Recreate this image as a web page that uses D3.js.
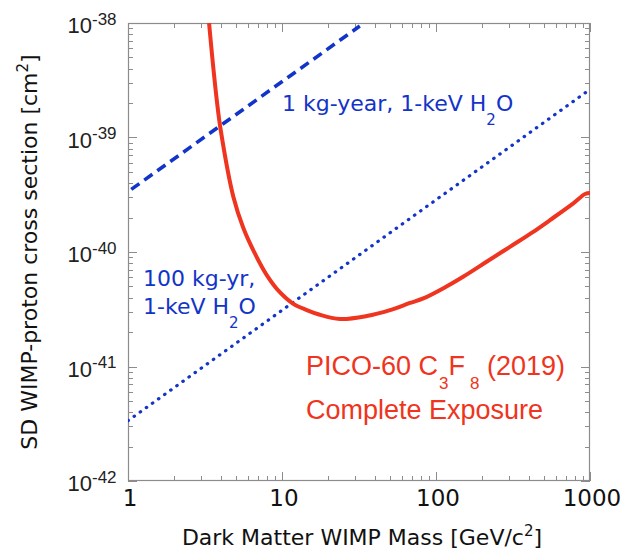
<!DOCTYPE html>
<html><head><meta charset="utf-8">
<script src="https://cdn.jsdelivr.net/npm/d3@7"></script>
<style>body{margin:0;background:#fff}svg{display:block}</style>
</head><body>
<script>
// ---- data ----
const xTickValues = [1, 10, 100, 1000];
const xTickLabels = ["1", "10", "100", "1000"];
const yTickValues = [1e-42, 1e-41, 1e-40, 1e-39, 1e-38];
const yTickExponents = ["-42", "-41", "-40", "-39", "-38"];

const picoMass = [3.36, 3.54, 3.77, 4.0, 4.83, 5.61, 6.69, 7.96, 9.71, 11.84, 14.5, 17.2, 23.8, 35.5, 50.3, 67.8, 82.7, 117, 150, 213, 302, 428, 550, 779, 929, 1000];
const picoSigma = [1e-38, 4.75e-39, 2.13e-39, 1.16e-39, 3.04e-40, 1.62e-40, 9.61e-41, 6.29e-41, 4.43e-41, 3.52e-41, 3.11e-41, 2.86e-41, 2.60e-41, 2.76e-41, 3.11e-41, 3.59e-41, 3.93e-41, 5.00e-41, 6.08e-41, 8.22e-41, 1.11e-40, 1.50e-40, 1.90e-40, 2.66e-40, 3.21e-40, 3.27e-40];

const h2o1Mass = [1, 32];
const h2o1Sigma = [3.36e-40, 9.4e-39];
const h2o100Mass = [1, 1000];
const h2o100Sigma = [3.36e-42, 2.63e-39];

// ---- layout ----
const W = 627, H = 551;
const L = 128, R = 590, T = 23, B = 481;
const blue = "#1234c8", red = "#ef3420", frame = "#8c8c8c";

const svg = d3.select("body").append("svg").attr("width", W).attr("height", H);
const x = d3.scaleLog().domain([1, 1000]).range([L, R]);
const y = d3.scaleLog().domain([1e-42, 1e-38]).range([B, T]);

svg.append("clipPath").attr("id", "clip").append("rect")
  .attr("x", L).attr("y", T).attr("width", R - L).attr("height", B - T);

// ticks
const xMinor = x.ticks().filter(v => !xTickValues.some(m => Math.abs(m - v) < 1e-9 * m));
const yMinor = y.ticks().filter(v => !yTickValues.some(m => Math.abs(m - v) < 1e-6 * m));
const tk = svg.append("g").attr("stroke", frame).attr("stroke-width", 1);
function xt(vals, len) {
  vals.forEach(v => {
    const px = Math.round(x(v)) + 0.5;
    tk.append("line").attr("x1", px).attr("x2", px).attr("y1", B).attr("y2", B - len);
    tk.append("line").attr("x1", px).attr("x2", px).attr("y1", T).attr("y2", T + len);
  });
}
function yt(vals, len) {
  vals.forEach(v => {
    const py = Math.round(y(v)) + 0.5;
    tk.append("line").attr("y1", py).attr("y2", py).attr("x1", L).attr("x2", L + len);
    tk.append("line").attr("y1", py).attr("y2", py).attr("x1", R).attr("x2", R - len);
  });
}
xt(xTickValues, 9); xt(xMinor, 5);
yt(yTickValues, 9); yt(yMinor, 5);

svg.append("rect").attr("x", L + 0.5).attr("y", T + 0.5).attr("width", R - L - 1).attr("height", B - T - 1)
  .attr("fill", "none").attr("stroke", frame).attr("stroke-width", 1.2);

// tick labels
const xl = svg.append("g").attr("font-family", "DejaVu Sans").attr("font-size", 23).attr("fill", "#111").attr("text-anchor", "middle");
xTickValues.forEach((v, i) => {
  xl.append("text").attr("x", x(v) + 2).attr("y", 506).text(xTickLabels[i]);
});
const yl = svg.append("g").attr("font-family", "Liberation Sans").attr("fill", "#222");
yTickValues.forEach((v, i) => {
  const py = y(v);
  yl.append("text").attr("x", 92).attr("y", py + 10).attr("font-size", 22).attr("text-anchor", "end").text("10");
  yl.append("text").attr("x", 92).attr("y", py + 1.5).attr("font-size", 17).text(yTickExponents[i]);
});

// axis titles
const xtT = svg.append("text").attr("font-family", "DejaVu Sans").attr("font-size", 22).attr("fill", "#111")
  .attr("text-anchor", "middle").attr("x", 362).attr("y", 545);
xtT.append("tspan").text("Dark Matter WIMP Mass [GeV/c");
xtT.append("tspan").attr("font-size", 15).attr("dy", -9).text("2");
xtT.append("tspan").attr("dy", 9).text("]");

const ytT = svg.append("text").attr("font-family", "DejaVu Sans").attr("font-size", 22).attr("fill", "#111")
  .attr("text-anchor", "middle").attr("transform", "translate(37,252) rotate(-90)");
ytT.append("tspan").text("SD WIMP-proton cross section [cm");
ytT.append("tspan").attr("font-size", 15).attr("dy", -9).text("2");
ytT.append("tspan").attr("dy", 9).text("]");

// lines
const line = d3.line().x(d => x(d[0])).y(d => y(d[1]));
const g = svg.append("g").attr("clip-path", "url(#clip)");
g.append("path").datum(h2o100Mass.map((m, i) => [m, h2o100Sigma[i]]))
  .attr("d", line).attr("fill", "none").attr("stroke", blue).attr("stroke-width", 3.2)
  .attr("stroke-linecap", "round").attr("stroke-dasharray", "0.5,7");
g.append("path").datum(h2o1Mass.map((m, i) => [m, h2o1Sigma[i]]))
  .attr("d", line).attr("fill", "none").attr("stroke", blue).attr("stroke-width", 3.6)
  .attr("stroke-dasharray", "10,6").attr("stroke-dashoffset", -4);
g.append("path").datum(picoMass.map((m, i) => [m, picoSigma[i]]))
  .attr("d", line.curve(d3.curveCatmullRom.alpha(0.5))).attr("fill", "none").attr("stroke", red)
  .attr("stroke-width", 4).attr("stroke-linejoin", "round");

// annotations
function sub(t, parts, fs) {
  parts.forEach(p => {
    if (p[1]) t.append("tspan").attr("font-size", fs).attr("dy", 14).attr("dx", p[2] || 0).text(p[0]);
    else t.append("tspan").attr("dy", p[2] || 0).text(p[0]);
  });
}
const a1 = svg.append("text").attr("font-family", "DejaVu Sans").attr("font-size", 22).attr("fill", blue).attr("x", 282).attr("y", 111);
sub(a1, [["1 kg-year,  1-keV H"], ["2", true], ["O", false, -14]], 15);
svg.append("text").attr("font-family", "DejaVu Sans").attr("font-size", 22).attr("fill", blue).attr("x", 143).attr("y", 286).text("100 kg-yr,");
const a3 = svg.append("text").attr("font-family", "DejaVu Sans").attr("font-size", 22).attr("fill", blue).attr("x", 143).attr("y", 314);
sub(a3, [["1-keV H"], ["2", true], ["O", false, -14]], 15);
const r1 = svg.append("text").attr("font-family", "Liberation Sans").attr("font-size", 27).attr("fill", red).attr("x", 306).attr("y", 375);
sub(r1, [["PICO-60 C"], ["3", true, 1], ["F", false, -14], ["8", true, 5], [" (2019)", false, -14]], 17);
svg.append("text").attr("font-family", "Liberation Sans").attr("font-size", 27).attr("fill", red).attr("x", 306).attr("y", 419).text("Complete Exposure");
</script>
</body></html>
